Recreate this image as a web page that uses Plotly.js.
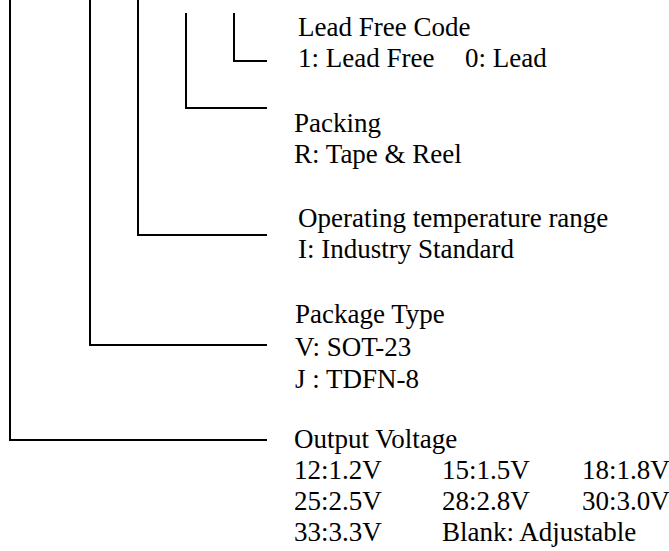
<!DOCTYPE html>
<html>
<head>
<meta charset="utf-8">
<script src="https://cdn.plot.ly/plotly-3.0.1.min.js"></script>
<style>html,body{margin:0;padding:0;background:#fff;}#chart{width:669px;height:551px;}</style>
</head>
<body>
<div id="chart"></div>
<script>
// ---- Data: ordering-code fields (innermost branch first) ----
const fieldTitles = ["Lead Free Code", "Packing", "Operating temperature range", "Package Type", "Output Voltage"];
const leadFreeOptions = ["1: Lead Free", "0: Lead"];
const packingOptions = ["R: Tape & Reel"];
const temperatureOptions = ["I: Industry Standard"];
const packageOptions = ["V: SOT-23", "J : TDFN-8"];
const voltageOptions = ["12:1.2V", "15:1.5V", "18:1.8V",
                        "25:2.5V", "28:2.8V", "30:3.0V",
                        "33:3.3V", "Blank: Adjustable"];

// ---- Layout geometry (pixel coordinates on a 669x551 canvas) ----
const branchX   = [234, 186, 138, 90, 10];   // vertical leader x
const branchTop = [13, 13, 0, 0, 0];         // vertical leader top
const branchY   = [61, 108, 235, 345, 440];  // horizontal leader y
const leaderEnd = 267;
const titleX    = [298, 294, 298, 295, 294];
const titleBase = [36, 132, 227, 323, 448];
const lineStep  = [31, 31, 31, 32.5, 31];

const FONT = {family: "Liberation Serif, 'Times New Roman', Times, serif", size: 27, color: "#000"};
const MID = 9; // baseline -> vertical centre of text box

const traces = branchX.map((bx, i) => ({
  type: "scatter", mode: "lines",
  x: [bx, bx, leaderEnd], y: [branchTop[i], branchY[i], branchY[i]],
  line: {color: "#000", width: 2}, hoverinfo: "skip", showlegend: false, cliponaxis: false
}));

const ann = [];
function addText(text, x, base) {
  ann.push({text: text, x: x, y: base - MID, xref: "x", yref: "y",
            xanchor: "left", yanchor: "middle", showarrow: false,
            borderpad: 0, borderwidth: 0, font: FONT});
}
fieldTitles.forEach((t, i) => addText(t, titleX[i], titleBase[i]));

// Lead free: two options on one row
const lfCols = [298, 465];
leadFreeOptions.forEach((t, k) => addText(t, lfCols[k], titleBase[0] + lineStep[0]));
packingOptions.forEach((t, k) => addText(t, titleX[1], titleBase[1] + lineStep[1] * (k + 1)));
temperatureOptions.forEach((t, k) => addText(t, titleX[2], titleBase[2] + lineStep[2] * (k + 1)));
packageOptions.forEach((t, k) => addText(t, titleX[3], titleBase[3] + lineStep[3] * (k + 1)));
const vCols = [294, 442, 582];
voltageOptions.forEach((t, k) => {
  const row = Math.floor(k / 3), col = k % 3;
  addText(t, vCols[col], titleBase[4] + lineStep[4] * (row + 1));
});

const layout = {
  width: 669, height: 551,
  margin: {l: 0, r: 0, t: 0, b: 0, pad: 0},
  paper_bgcolor: "#fff", plot_bgcolor: "#fff",
  xaxis: {range: [0, 669], visible: false, fixedrange: true},
  yaxis: {range: [551, 0], visible: false, fixedrange: true},
  annotations: ann,
  showlegend: false
};
Plotly.newPlot("chart", traces, layout, {displayModeBar: false, staticPlot: true});
</script>
</body>
</html>
